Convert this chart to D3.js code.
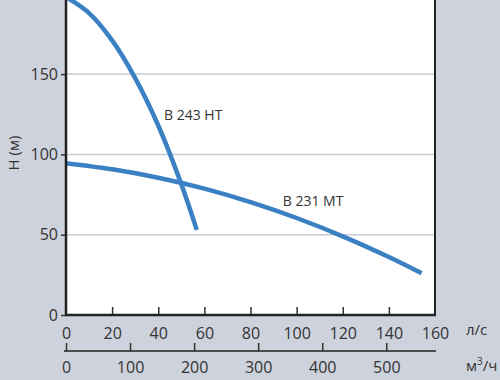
<!DOCTYPE html>
<html>
<head>
<meta charset="utf-8">
<script src="https://cdn.jsdelivr.net/npm/d3@7"></script>
<style>
  body { margin: 0; background: #cdd2dc; }
  svg { display: block; font-family: "Open Sans", sans-serif; }
</style>
</head>
<body>
<svg id="chart" width="500" height="380"></svg>
<script>
// Chart data (flow in l/s, head in m)
let htFlow = [0, 10, 20, 30, 40, 50, 56.7]
let htHead = [198, 188, 171, 147.5, 118, 81.5, 53]
let mtFlow = [0, 20, 40, 60, 80, 100, 120, 140, 154.2]
let mtHead = [94.5, 90.7, 85.5, 78.7, 70.3, 60.4, 49, 36.1, 26]
let yTicks = [0, 50, 100, 150, 200]
let flowTicks = [0, 20, 40, 60, 80, 100, 120, 140, 160]
let m3Ticks = [0, 100, 200, 300, 400, 500]

// Global settings
let lineColor = "#3a80c3"
let inkColor = "#333"
let left = 66, right = 435, bottom = 315

let svg = d3.select("#chart")

let x = d3.scaleLinear().domain([0, 160]).range([left, right])
let xM3 = d3.scaleLinear().domain([0, 160 * 3.6]).range([left, right])
let y = d3.scaleLinear().domain([0, 200]).range([bottom, -6.2])

// Plot area
svg.append("rect")
    .attr("x", left).attr("y", 0)
    .attr("width", right - left).attr("height", bottom)
    .attr("fill", "white")

svg.append("clipPath").attr("id", "plot")
    .append("rect")
    .attr("x", left).attr("y", 0)
    .attr("width", right - left).attr("height", bottom)

// Gridlines
svg.selectAll(".grid")
    .data(yTicks.filter(d => d > 0))
    .enter()
    .append("line")
    .attr("x1", left).attr("x2", right)
    .attr("y1", d => y(d)).attr("y2", d => y(d))
    .attr("stroke", "#c6cbd5")
    .attr("stroke-width", 1.5)

// Curves
let line = d3.line()
    .x(d => x(d[0]))
    .y(d => y(d[1]))
    .curve(d3.curveCatmullRom)

let series = [
    d3.zip(htFlow, htHead),
    d3.zip(mtFlow, mtHead)
]
svg.append("g").attr("clip-path", "url(#plot)")
    .selectAll("path")
    .data(series)
    .enter()
    .append("path")
    .attr("d", d => line(d))
    .attr("fill", "none")
    .attr("stroke", lineColor)
    .attr("stroke-width", 4.5)

// Curve labels
svg.append("text").attr("x", x(42.5)).attr("y", 120)
    .attr("font-size", 14).attr("fill", inkColor).text("B 243 HT")
svg.append("text").attr("x", x(94)).attr("y", 206)
    .attr("font-size", 14).attr("fill", inkColor).text("B 231 MT")

// Left axis
let yAxis = svg.append("g")
    .attr("transform", `translate(${left},0)`)
    .call(d3.axisLeft(y).tickValues(yTicks).tickSize(5).tickPadding(3))
yAxis.select(".domain").remove()
yAxis.selectAll("line").attr("stroke", inkColor).attr("stroke-width", 1.5)
yAxis.selectAll("text")
    .attr("font-size", 16).attr("fill", inkColor)
    .attr("font-family", "Open Sans")

svg.append("line")
    .attr("x1", left).attr("x2", left)
    .attr("y1", 0).attr("y2", bottom + 1)
    .attr("stroke", "#222").attr("stroke-width", 2.5)
svg.append("line")
    .attr("x1", right).attr("x2", right)
    .attr("y1", 0).attr("y2", bottom + 1)
    .attr("stroke", "#222").attr("stroke-width", 2)

// Bottom axis (l/s) with inward ticks
let xAxis = svg.append("g")
    .attr("transform", `translate(0,${bottom})`)
    .call(d3.axisBottom(x).tickValues(flowTicks).tickSize(-8).tickPadding(13))
xAxis.select(".domain").remove()
xAxis.selectAll("line")
    .attr("stroke", inkColor).attr("stroke-width", 1.5)
    .attr("opacity", d => (d === 0 || d === 160) ? 0 : 1)
xAxis.selectAll("text")
    .attr("font-size", 16).attr("fill", inkColor)
    .attr("font-family", "Open Sans")
svg.append("line")
    .attr("x1", left - 1).attr("x2", right + 1)
    .attr("y1", bottom).attr("y2", bottom)
    .attr("stroke", "#222").attr("stroke-width", 2.5)

// Second axis (m3/h)
let x2Axis = svg.append("g")
    .attr("transform", "translate(0,351)")
    .call(d3.axisBottom(xM3).tickValues(m3Ticks).tickSize(-8).tickPadding(11))
x2Axis.select(".domain").remove()
x2Axis.selectAll("line").attr("stroke", inkColor).attr("stroke-width", 1.5)
x2Axis.selectAll("text")
    .attr("font-size", 16).attr("fill", inkColor)
    .attr("font-family", "Open Sans")
svg.append("line")
    .attr("x1", left - 2).attr("x2", right + 1)
    .attr("y1", 351).attr("y2", 351)
    .attr("stroke", "#222").attr("stroke-width", 1.5)

// Units and axis title
svg.append("text").attr("x", 466).attr("y", 335)
    .attr("font-size", 15).attr("fill", inkColor).text("л/с")
let m3 = svg.append("text").attr("x", 466).attr("y", 371)
    .attr("font-size", 15).attr("fill", inkColor)
m3.append("tspan").text("м")
m3.append("tspan").attr("font-size", 10).attr("dy", -6).text("3")
m3.append("tspan").attr("dy", 6).text("/ч")

svg.append("text")
    .attr("transform", "translate(19,153) rotate(-90)")
    .attr("text-anchor", "middle")
    .attr("font-size", 15).attr("fill", inkColor)
    .text("H (м)")
</script>
</body>
</html>
